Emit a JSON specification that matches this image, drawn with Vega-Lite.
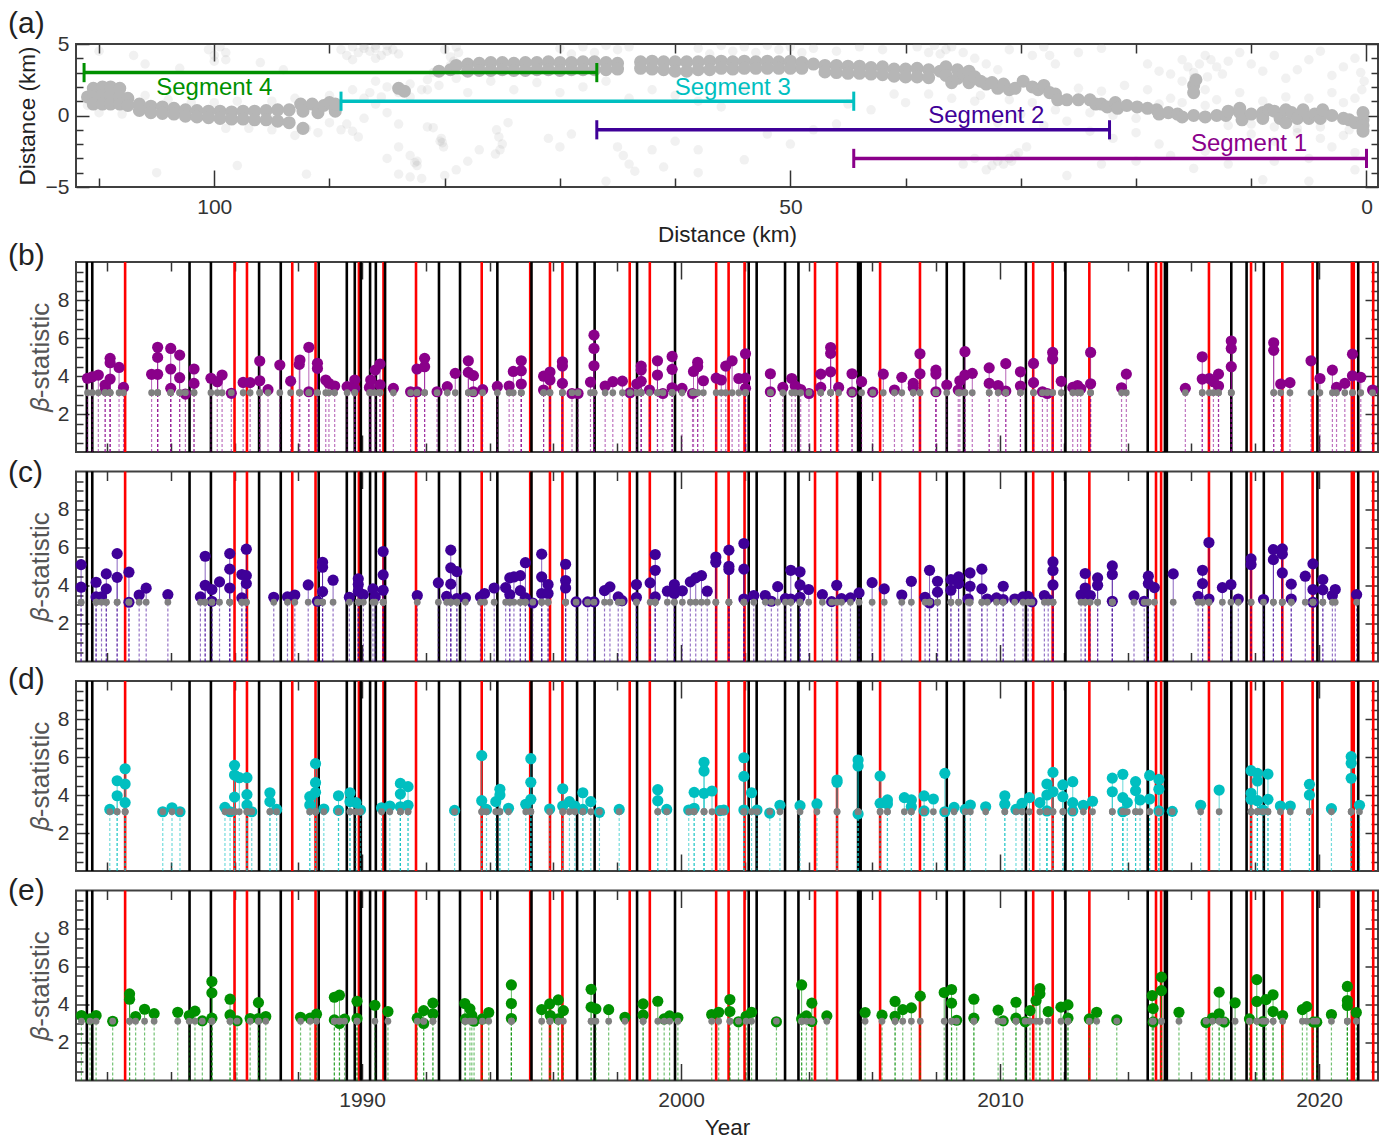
{"$schema":"https://vega.github.io/schema/vega-lite/v6.json","background":"white","padding":{"left":7,"top":8,"right":4,"bottom":4},"bounds":"flush","spacing":19.5,"resolve":{"scale":{"color":"independent"}},
"config":{"view":{"stroke":"#404040","strokeWidth":2},"axis":{"domain":false,"grid":false,"tickColor":"#333333","tickWidth":1.5,"labelFont":"Liberation Sans","labelFontSize":21,"labelColor":"#333333","titleFont":"Liberation Sans","titleFontSize":22.5,"titleFontWeight":"normal","titleColor":"#222222","labelPadding":20},"title":{"anchor":"start","frame":"group","dx":-68,"font":"Liberation Sans","fontSize":30,"fontWeight":"normal","color":"#222222","offset":0}},
"datasets":{
"ev":[{"t":1981.37,"k":"b"},{"t":1981.54,"k":"b"},{"t":1982.57,"k":"r"},{"t":1984.59,"k":"b"},{"t":1985.26,"k":"b"},{"t":1986.0,"k":"r"},{"t":1986.39,"k":"r"},{"t":1986.77,"k":"b"},{"t":1987.45,"k":"b"},{"t":1987.81,"k":"r"},{"t":1988.54,"k":"r"},{"t":1988.64,"k":"b"},{"t":1989.52,"k":"b"},{"t":1989.77,"k":"b"},{"t":1989.9,"k":"r"},{"t":1989.96,"k":"b"},{"t":1990.25,"k":"b"},{"t":1990.43,"k":"b"},{"t":1990.67,"k":"r"},{"t":1990.72,"k":"b"},{"t":1991.69,"k":"r"},{"t":1992.41,"k":"b"},{"t":1993.07,"k":"b"},{"t":1993.75,"k":"r"},{"t":1994.24,"k":"b"},{"t":1995.27,"k":"r"},{"t":1995.31,"k":"b"},{"t":1995.89,"k":"r"},{"t":1996.28,"k":"r"},{"t":1996.74,"k":"b"},{"t":1997.29,"k":"b"},{"t":1998.39,"k":"r"},{"t":1998.62,"k":"b"},{"t":1999.02,"k":"r"},{"t":1999.81,"k":"b"},{"t":2001.1,"k":"r"},{"t":2001.49,"k":"r"},{"t":2001.99,"k":"r"},{"t":2002.12,"k":"b"},{"t":2002.37,"k":"b"},{"t":2003.26,"k":"b"},{"t":2003.68,"k":"b"},{"t":2004.2,"k":"r"},{"t":2004.89,"k":"r"},{"t":2005.55,"k":"b"},{"t":2005.59,"k":"b"},{"t":2005.63,"k":"b"},{"t":2006.24,"k":"r"},{"t":2007.49,"k":"r"},{"t":2008.33,"k":"b"},{"t":2008.87,"k":"b"},{"t":2010.81,"k":"b"},{"t":2011.04,"k":"r"},{"t":2011.65,"k":"r"},{"t":2012.05,"k":"b"},{"t":2012.8,"k":"r"},{"t":2014.63,"k":"b"},{"t":2014.89,"k":"r"},{"t":2015.05,"k":"r"},{"t":2015.17,"k":"b"},{"t":2015.23,"k":"b"},{"t":2016.55,"k":"r"},{"t":2017.25,"k":"b"},{"t":2017.73,"k":"b"},{"t":2017.87,"k":"r"},{"t":2018.27,"k":"b"},{"t":2018.85,"k":"r"},{"t":2019.8,"k":"r"},{"t":2019.95,"k":"b"},{"t":2021.03,"k":"r"},{"t":2021.09,"k":"r"},{"t":2021.23,"k":"b"},{"t":2021.7,"k":"r"}],
"seg":[{"n":"Segment 4","a":111.3,"b":66.8,"y":3,"lo":2.33,"hi":3.67,"tx":100,"ty":1.9},{"n":"Segment 3","a":89,"b":44.5,"y":1,"lo":0.33,"hi":1.67,"tx":55,"ty":1.9},{"n":"Segment 2","a":66.8,"b":22.3,"y":-1,"lo":-1.67,"hi":-0.33,"tx":33,"ty":0},{"n":"Segment 1","a":44.5,"b":0,"y":-3,"lo":-3.67,"hi":-2.33,"tx":10.2,"ty":-2}],
"sp":[{"d":89,"v":4.6},{"d":88.5,"v":4.2},{"d":88,"v":4.8},{"d":87.5,"v":4.4},{"d":87,"v":4.9},{"d":86.5,"v":4.5},{"d":86,"v":4.7},{"d":85.5,"v":4.2},{"d":85,"v":4.9},{"d":84.5,"v":4.6},{"d":84,"v":4.3},{"d":88,"v":3.9},{"d":86,"v":4},{"d":87,"v":4.7},{"d":86,"v":4.9},{"d":85,"v":4.5},{"d":80,"v":4.6},{"d":79.5,"v":4.1},{"d":79,"v":4.8},{"d":79.2,"v":3.8},{"d":78.8,"v":4.4},{"d":79.5,"v":3.5},{"d":100.5,"v":4.6},{"d":100,"v":4.2},{"d":99.5,"v":4.8},{"d":99,"v":4.4},{"d":99,"v":3.9},{"d":100,"v":3.8},{"d":110,"v":4.5},{"d":107,"v":4.2},{"d":106,"v":3.6},{"d":103,"v":3.3},{"d":96,"v":3.7},{"d":94,"v":3.2},{"d":68,"v":4.8},{"d":67,"v":4.4},{"d":66,"v":4.9},{"d":65,"v":4.6},{"d":64,"v":4.8},{"d":69,"v":4.3},{"d":70,"v":4.7},{"d":58,"v":4.7},{"d":57,"v":4.3},{"d":56,"v":4.9},{"d":55,"v":4.5},{"d":54,"v":4.8},{"d":53,"v":4.4},{"d":52,"v":4.9},{"d":51,"v":4.6},{"d":50,"v":4.8},{"d":49,"v":4.4},{"d":48,"v":4.7},{"d":46,"v":4.5},{"d":44,"v":4.8},{"d":42,"v":4.6},{"d":39,"v":4.8},{"d":38,"v":4.4},{"d":37.5,"v":4.9},{"d":37,"v":4.3},{"d":36.5,"v":4.6},{"d":36,"v":4.8},{"d":35,"v":4.4},{"d":34,"v":4},{"d":33,"v":3.6},{"d":32,"v":3.2},{"d":31,"v":4.6},{"d":29,"v":4.2},{"d":28,"v":4.8},{"d":27.5,"v":4.2},{"d":27,"v":3.6},{"d":25,"v":4.4},{"d":23,"v":4.7},{"d":86,"v":2.4},{"d":85,"v":2},{"d":84,"v":1.6},{"d":83,"v":2.2},{"d":82,"v":1.8},{"d":81,"v":3},{"d":81.5,"v":2.5},{"d":80.5,"v":2.1},{"d":79,"v":2.6},{"d":78,"v":1.6},{"d":76,"v":2.4},{"d":74,"v":1.8},{"d":72,"v":2.3},{"d":70,"v":1.6},{"d":68,"v":2},{"d":66,"v":2.4},{"d":64,"v":1.2},{"d":62,"v":1.8},{"d":60,"v":1.4},{"d":58,"v":1},{"d":56,"v":0.6},{"d":54,"v":1.9},{"d":88.5,"v":-0.6},{"d":88,"v":-1.1},{"d":87.5,"v":-1.5},{"d":87,"v":-0.2},{"d":89,"v":-1},{"d":90,"v":-0.5},{"d":91,"v":-1.2},{"d":92,"v":-0.9},{"d":93,"v":-1.4},{"d":95,"v":-1},{"d":97,"v":-0.9},{"d":99,"v":-0.9},{"d":85,"v":0.2},{"d":84,"v":-0.6},{"d":86,"v":0.8},{"d":81.5,"v":-0.8},{"d":81,"v":-0.85},{"d":80.3,"v":-1.6},{"d":80.2,"v":-1.9},{"d":80.1,"v":-2.2},{"d":80.4,"v":-1.8},{"d":82.4,"v":-3.2},{"d":82.4,"v":-3.5},{"d":82.6,"v":-3.3},{"d":84,"v":-2.2},{"d":83,"v":-2.8},{"d":85,"v":-3},{"d":84,"v":-4.1},{"d":83,"v":-4.3},{"d":82,"v":-4.4},{"d":80,"v":-4.2},{"d":79,"v":-3.8},{"d":75.5,"v":-1},{"d":75.3,"v":-1.5},{"d":75,"v":-2},{"d":75.2,"v":-2.4},{"d":75.6,"v":-2.7},{"d":74.5,"v":-0.5},{"d":77,"v":-2.4},{"d":78,"v":-3.2},{"d":71,"v":-1.6},{"d":70,"v":-2.2},{"d":69,"v":-1.3},{"d":105,"v":-4},{"d":98,"v":-3.5},{"d":92,"v":-4.1},{"d":95,"v":-0.3},{"d":66,"v":-4.6},{"d":65,"v":-2.2},{"d":64.5,"v":-2.8},{"d":64,"v":-3.4},{"d":63.5,"v":-3.9},{"d":62,"v":-2.4},{"d":61,"v":-3.6},{"d":60,"v":-1.8},{"d":58,"v":-2.4},{"d":58,"v":-4},{"d":54,"v":-3.1},{"d":52,"v":-1.3},{"d":50,"v":-2},{"d":48,"v":-1},{"d":46,"v":-0.6},{"d":45,"v":0.8},{"d":43,"v":0.4},{"d":41,"v":1.5},{"d":40,"v":0.9},{"d":38,"v":1.5},{"d":36,"v":1.2},{"d":34,"v":1},{"d":32,"v":-0.5},{"d":30,"v":0.1},{"d":28,"v":-0.7},{"d":26,"v":-0.4},{"d":24,"v":-1.1},{"d":22,"v":-1.6},{"d":20,"v":-1.2},{"d":18,"v":-2},{"d":33,"v":-3.8},{"d":32.5,"v":-3.5},{"d":32,"v":-3.2},{"d":31.5,"v":-3.4},{"d":31,"v":-3},{"d":30.8,"v":-3.2},{"d":30.5,"v":-2.8},{"d":30.2,"v":-2.6},{"d":29.5,"v":-2.2},{"d":34,"v":-3},{"d":35,"v":-3.4},{"d":19,"v":3.6},{"d":18,"v":3.1},{"d":17,"v":2.9},{"d":16,"v":3.9},{"d":15.5,"v":3.4},{"d":15,"v":3},{"d":15,"v":2.6},{"d":14.5,"v":3.6},{"d":14,"v":4.2},{"d":13.5,"v":3.9},{"d":13,"v":3.4},{"d":12,"v":3.8},{"d":12.5,"v":2.9},{"d":11,"v":4.4},{"d":10,"v":3.6},{"d":9,"v":3.1},{"d":8,"v":4.2},{"d":7,"v":2.6},{"d":6,"v":3.2},{"d":5,"v":3.9},{"d":4,"v":4.5},{"d":3,"v":2.8},{"d":2,"v":3.4},{"d":1,"v":4},{"d":0.5,"v":3},{"d":0.2,"v":2.4},{"d":0.4,"v":1.8},{"d":1,"v":1.2},{"d":2,"v":0.9},{"d":3,"v":1.6},{"d":5,"v":1.2},{"d":7,"v":1.3},{"d":9,"v":1},{"d":11,"v":1.6},{"d":13,"v":1.1},{"d":17,"v":1.2},{"d":19,"v":1.8},{"d":21,"v":2.1},{"d":23,"v":1.7},{"d":25,"v":1.9},{"d":10,"v":-1.3},{"d":8,"v":-1.8},{"d":6,"v":-1.2},{"d":4,"v":-1.6},{"d":3,"v":-2.2},{"d":2,"v":-1.4},{"d":1,"v":-2.6},{"d":1,"v":-3.8},{"d":5,"v":-3},{"d":8,"v":-3.2},{"d":12,"v":-3.4},{"d":15,"v":-3.7},{"d":17,"v":-2.8},{"d":20,"v":-3.2},{"d":23,"v":-3.4},{"d":26,"v":-4.2},{"d":5,"v":-4.6},{"d":9,"v":-4.5},{"d":14,"v":-2.5},{"d":110,"v":0.2},{"d":111,"v":0.7},{"d":108,"v":0.1},{"d":106,"v":1.4},{"d":104,"v":1.1},{"d":102,"v":0.9},{"d":100,"v":0.9},{"d":98,"v":1},{"d":95,"v":1},{"d":93,"v":1.2},{"d":90,"v":1.4},{"d":88,"v":1.8},{"d":87,"v":1.2},{"d":86.5,"v":1.6},{"d":85.5,"v":1.3},{"d":83,"v":1.3},{"d":81.5,"v":1.8},{"d":33.5,"v":1.4},{"d":31,"v":1.1},{"d":29,"v":0.9},{"d":27,"v":0.4},{"d":24,"v":0.2},{"d":22,"v":0},{"d":20,"v":-0.2},{"d":18,"v":0.8},{"d":16,"v":0.9},{"d":14,"v":0.7},{"d":12,"v":-0.7},{"d":10,"v":-0.6},{"d":8,"v":-0.8},{"d":6,"v":-0.9},{"d":4,"v":-0.8},{"d":2,"v":-0.3},{"d":1.5,"v":-1},{"d":14,"v":1.8},{"d":16,"v":2.4},{"d":13.8,"v":2.7}],
"de":[{"d":111,"v":1.3},{"d":110.5,"v":1.9},{"d":110.5,"v":1.3},{"d":110.5,"v":0.8},{"d":109.7,"v":2},{"d":109.7,"v":1.4},{"d":109.7,"v":0.8},{"d":109,"v":2},{"d":109,"v":1.4},{"d":109,"v":0.8},{"d":108.2,"v":1.9},{"d":108.2,"v":1.3},{"d":108.2,"v":0.8},{"d":107.5,"v":1.2},{"d":107.5,"v":0.7},{"d":106.5,"v":0.8},{"d":106.5,"v":0.35},{"d":105.5,"v":0.65},{"d":105.5,"v":0.2},{"d":104.5,"v":0.6},{"d":104.5,"v":0.15},{"d":103.5,"v":0.5},{"d":103.5,"v":0.1},{"d":102.5,"v":0.4},{"d":102.5,"v":-0.05},{"d":101.5,"v":0.35},{"d":101.5,"v":-0.1},{"d":100.5,"v":0.3},{"d":100.5,"v":-0.15},{"d":99.5,"v":0.3},{"d":99.5,"v":-0.2},{"d":98.5,"v":0.25},{"d":98.5,"v":-0.25},{"d":97.5,"v":0.3},{"d":97.5,"v":-0.25},{"d":96.5,"v":0.3},{"d":96.5,"v":-0.3},{"d":95.5,"v":0.35},{"d":95.5,"v":-0.3},{"d":94.5,"v":0.4},{"d":94.5,"v":-0.4},{"d":93.5,"v":0.4},{"d":93.5,"v":-0.5},{"d":92.5,"v":0.8},{"d":92.3,"v":-0.9},{"d":92.3,"v":0.3},{"d":91.5,"v":0.8},{"d":91,"v":0.2},{"d":90.5,"v":0.7},{"d":90,"v":0.9},{"d":89.5,"v":0.3},{"d":89.5,"v":0.8},{"d":84,"v":1.9},{"d":83.5,"v":1.7},{"d":80.5,"v":3.1},{"d":79.5,"v":3.2},{"d":79,"v":3.5},{"d":78,"v":3.6},{"d":78,"v":3.1},{"d":77,"v":3.65},{"d":77,"v":3.15},{"d":76,"v":3.7},{"d":76,"v":3.15},{"d":75,"v":3.7},{"d":75,"v":3.2},{"d":74,"v":3.65},{"d":74,"v":3.15},{"d":73,"v":3.7},{"d":73,"v":3.15},{"d":72,"v":3.7},{"d":72,"v":3.2},{"d":71,"v":3.75},{"d":71,"v":3.2},{"d":70,"v":3.7},{"d":70,"v":3.15},{"d":69,"v":3.7},{"d":69,"v":3.2},{"d":68,"v":3.75},{"d":68,"v":3.2},{"d":67,"v":3.75},{"d":67,"v":3.2},{"d":66,"v":3.7},{"d":66,"v":3.2},{"d":65,"v":3.65},{"d":65,"v":3.25},{"d":63,"v":3.75},{"d":63,"v":3.3},{"d":62,"v":3.8},{"d":62,"v":3.25},{"d":61,"v":3.75},{"d":61,"v":3.2},{"d":60,"v":3.75},{"d":60,"v":3.1},{"d":59,"v":3.75},{"d":59,"v":3.1},{"d":58,"v":3.75},{"d":58,"v":3.2},{"d":57,"v":3.8},{"d":57,"v":3.2},{"d":56,"v":3.8},{"d":56,"v":3.3},{"d":55,"v":3.75},{"d":55,"v":3.25},{"d":54,"v":3.8},{"d":54,"v":3.3},{"d":53,"v":3.75},{"d":53,"v":3.3},{"d":52,"v":3.8},{"d":52,"v":3.3},{"d":51,"v":3.75},{"d":51,"v":3.3},{"d":50,"v":3.8},{"d":50,"v":3.3},{"d":49,"v":3.7},{"d":49,"v":3.3},{"d":48,"v":3.6},{"d":47,"v":3.5},{"d":47,"v":3.05},{"d":46,"v":3.5},{"d":46,"v":3},{"d":45,"v":3.45},{"d":45,"v":2.95},{"d":44,"v":3.45},{"d":44,"v":2.95},{"d":43,"v":3.35},{"d":43,"v":2.9},{"d":42,"v":3.4},{"d":42,"v":2.85},{"d":41,"v":3.25},{"d":41,"v":2.75},{"d":40,"v":3.25},{"d":40,"v":2.7},{"d":39,"v":3.3},{"d":39,"v":2.7},{"d":38,"v":3.2},{"d":38,"v":2.65},{"d":37,"v":3.1},{"d":36.5,"v":3.4},{"d":36.5,"v":2.8},{"d":36,"v":2.3},{"d":35.5,"v":3.2},{"d":35.5,"v":2.6},{"d":35,"v":2.9},{"d":34.5,"v":2.3},{"d":34.5,"v":3.1},{"d":34,"v":2.7},{"d":33.5,"v":2.4},{"d":33,"v":2.2},{"d":32.5,"v":2.3},{"d":32,"v":1.9},{"d":31.5,"v":2.2},{"d":31,"v":1.8},{"d":30.5,"v":1.9},{"d":29.8,"v":2.4},{"d":29,"v":2},{"d":28.5,"v":1.8},{"d":28,"v":2.1},{"d":27.5,"v":1.6},{"d":27,"v":1.5},{"d":26.8,"v":1.1},{"d":26,"v":1.1},{"d":25,"v":1.1},{"d":24,"v":1.1},{"d":23.5,"v":0.8},{"d":23,"v":0.8},{"d":22.5,"v":0.6},{"d":21.8,"v":0.9},{"d":21.6,"v":0.5},{"d":20.8,"v":0.7},{"d":19.9,"v":0.6},{"d":19,"v":0.5},{"d":18.2,"v":0.4},{"d":18,"v":0.1},{"d":17.2,"v":0.2},{"d":16.4,"v":0.1},{"d":16,"v":-0.1},{"d":15,"v":0},{"d":15,"v":2.1},{"d":15,"v":1.6},{"d":14.8,"v":2.5},{"d":14,"v":-0.1},{"d":13,"v":0},{"d":12.2,"v":0},{"d":12,"v":0.3},{"d":11,"v":0.2},{"d":10.8,"v":-0.3},{"d":11,"v":0.5},{"d":10,"v":0.1},{"d":9,"v":0.2},{"d":9,"v":-0.2},{"d":8.5,"v":0.4},{"d":8,"v":0.3},{"d":7.5,"v":-0.2},{"d":7,"v":0.4},{"d":7,"v":-0.5},{"d":6.5,"v":0.2},{"d":6,"v":-0.2},{"d":5.5,"v":0.4},{"d":5,"v":-0.2},{"d":4.5,"v":0.1},{"d":4,"v":-0.2},{"d":3.8,"v":0.4},{"d":3,"v":0},{"d":2,"v":-0.2},{"d":1.5,"v":-0.3},{"d":1,"v":-0.5},{"d":0.3,"v":-0.3},{"d":0.3,"v":-0.7},{"d":0.3,"v":-1.1},{"d":0.3,"v":0.2}],
"b":[{"t":1981.39,"b":3.88},{"t":1981.54,"b":3.96},{"t":1981.73,"b":4.05},{"t":1981.94,"b":3.52},{"t":1982.1,"b":3.84},{"t":1982.1,"b":4.93},{"t":1982.1,"b":4.7},{"t":1981.95,"b":3.26},{"t":1982.38,"b":4.45},{"t":1982.52,"b":3.4},{"t":1983.4,"b":4.09},{"t":1983.59,"b":4.09},{"t":1983.59,"b":4.98},{"t":1983.59,"b":5.51},{"t":1984,"b":5.45},{"t":1984,"b":4.37},{"t":1984,"b":3.35},{"t":1984.28,"b":5.1},{"t":1984.28,"b":3.91},{"t":1984.46,"b":3.05},{"t":1984.73,"b":4.37},{"t":1984.73,"b":3.61},{"t":1985.26,"b":3.88},{"t":1985.46,"b":3.7},{"t":1985.61,"b":4.05},{"t":1985.9,"b":3.09},{"t":1986.27,"b":3.66},{"t":1986.49,"b":3.65},{"t":1986.79,"b":4.79},{"t":1986.79,"b":3.75},{"t":1987.05,"b":3.28},{"t":1987.42,"b":4.58},{"t":1987.76,"b":3.73},{"t":1988.03,"b":4.61},{"t":1988.05,"b":4.84},{"t":1988.33,"b":5.51},{"t":1988.33,"b":3.17},{"t":1988.6,"b":4.67},{"t":1988.6,"b":4.4},{"t":1988.86,"b":3.79},{"t":1988.96,"b":3.61},{"t":1989.14,"b":3.47},{"t":1989.53,"b":3.44},{"t":1989.77,"b":3.79},{"t":1989.77,"b":3.35},{"t":1990.23,"b":3.4},{"t":1990.27,"b":3.79},{"t":1990.41,"b":4.31},{"t":1990.56,"b":4.63},{"t":1990.56,"b":3.54},{"t":1990.98,"b":3.35},{"t":1991.52,"b":3.17},{"t":1991.72,"b":3.17},{"t":1991.72,"b":4.37},{"t":1991.96,"b":4.49},{"t":1991.96,"b":4.93},{"t":1992.35,"b":3.17},{"t":1992.67,"b":3.44},{"t":1992.92,"b":4.14},{"t":1993.33,"b":4.8},{"t":1993.33,"b":4.19},{"t":1993.49,"b":4.02},{"t":1993.49,"b":3.17},{"t":1993.78,"b":3.28},{"t":1994.24,"b":3.45},{"t":1994.61,"b":3.47},{"t":1994.74,"b":4.24},{"t":1994.99,"b":4.8},{"t":1994.99,"b":4.28},{"t":1994.99,"b":3.58},{"t":1995.69,"b":3.99},{"t":1995.69,"b":3.26},{"t":1995.89,"b":4.21},{"t":1995.89,"b":3.79},{"t":1996.28,"b":4.75},{"t":1996.28,"b":4.52},{"t":1996.28,"b":3.61},{"t":1996.58,"b":3.08},{"t":1996.77,"b":3.08},{"t":1997.16,"b":3.68},{"t":1997.27,"b":6.15},{"t":1997.27,"b":5.45},{"t":1997.27,"b":4.54},{"t":1997.62,"b":3.47},{"t":1997.86,"b":3.7},{"t":1998.16,"b":3.73},{"t":1998.4,"b":3.12},{"t":1998.61,"b":3.58},{"t":1998.75,"b":4.52},{"t":1998.75,"b":4.31},{"t":1998.75,"b":3.72},{"t":1999.01,"b":3.26},{"t":1999.26,"b":4.8},{"t":1999.26,"b":4.05},{"t":1999.43,"b":3.08},{"t":1999.72,"b":5.03},{"t":1999.72,"b":4.35},{"t":1999.72,"b":3.38},{"t":2000.03,"b":3.35},{"t":2000.36,"b":3.08},{"t":2000.39,"b":4.24},{"t":2000.52,"b":4.72},{"t":2000.52,"b":4.49},{"t":2000.7,"b":3.75},{"t":2001.1,"b":3.89},{"t":2001.26,"b":3.79},{"t":2001.4,"b":4.52},{"t":2001.6,"b":4.8},{"t":2001.81,"b":3.87},{"t":2002.02,"b":5.17},{"t":2002.02,"b":3.89},{"t":2002.02,"b":3.35},{"t":2002.8,"b":4.12},{"t":2002.8,"b":3.17},{"t":2003.19,"b":3.4},{"t":2003.47,"b":3.87},{"t":2003.58,"b":3.47},{"t":2003.75,"b":3.29},{"t":2004.01,"b":3.08},{"t":2004.38,"b":4.1},{"t":2004.38,"b":3.4},{"t":2004.69,"b":5.5},{"t":2004.69,"b":5.19},{"t":2004.69,"b":4.22},{"t":2004.94,"b":3.4},{"t":2005.36,"b":4.12},{"t":2005.36,"b":3.15},{"t":2005.66,"b":3.7},{"t":2006.01,"b":3.15},{"t":2006.34,"b":4.1},{"t":2006.69,"b":3.26},{"t":2006.92,"b":3.93},{"t":2007.28,"b":3.61},{"t":2007.28,"b":3.4},{"t":2007.49,"b":5.17},{"t":2007.49,"b":4.12},{"t":2007.99,"b":4.31},{"t":2007.99,"b":4.1},{"t":2007.99,"b":3.17},{"t":2008.33,"b":3.52},{"t":2008.69,"b":3.26},{"t":2008.74,"b":3.75},{"t":2008.9,"b":5.28},{"t":2008.9,"b":4.05},{"t":2009.13,"b":4.14},{"t":2009.66,"b":4.43},{"t":2009.66,"b":3.61},{"t":2009.94,"b":3.5},{"t":2010.18,"b":4.65},{"t":2010.18,"b":3.21},{"t":2010.64,"b":4.22},{"t":2010.64,"b":3.47},{"t":2011.05,"b":4.66},{"t":2011.05,"b":3.65},{"t":2011.33,"b":3.17},{"t":2011.48,"b":3.08},{"t":2011.65,"b":5.24},{"t":2011.65,"b":4.89},{"t":2011.92,"b":3.72},{"t":2012.28,"b":3.4},{"t":2012.43,"b":3.5},{"t":2012.53,"b":3.33},{"t":2012.84,"b":5.24},{"t":2012.84,"b":3.59},{"t":2013.81,"b":3.38},{"t":2013.96,"b":4.1},{"t":2015.81,"b":3.35},{"t":2016.34,"b":5.01},{"t":2016.34,"b":3.84},{"t":2016.56,"b":3.87},{"t":2016.69,"b":3.7},{"t":2016.85,"b":4.1},{"t":2016.85,"b":3.47},{"t":2017.25,"b":5.84},{"t":2017.25,"b":5.45},{"t":2017.25,"b":4.49},{"t":2018.58,"b":5.75},{"t":2018.58,"b":5.35},{"t":2018.8,"b":3.58},{"t":2019.09,"b":3.65},{"t":2019.75,"b":4.8},{"t":2020.03,"b":3.87},{"t":2020.42,"b":4.31},{"t":2020.55,"b":3.4},{"t":2020.81,"b":3.61},{"t":2021.05,"b":5.15},{"t":2021.05,"b":4.01},{"t":2021.31,"b":3.93},{"t":2021.68,"b":3.26}],
"c":[{"t":1981.19,"b":5.1},{"t":1981.19,"b":3.91},{"t":1981.66,"b":4.17},{"t":1981.66,"b":3.4},{"t":1981.83,"b":3.4},{"t":1981.98,"b":4.61},{"t":1981.98,"b":3.82},{"t":1982.32,"b":5.68},{"t":1982.32,"b":4.43},{"t":1982.69,"b":4.7},{"t":1982.69,"b":3.12},{"t":1983.01,"b":3.5},{"t":1983.23,"b":3.86},{"t":1983.91,"b":3.52},{"t":1984.93,"b":3.4},{"t":1985.08,"b":5.54},{"t":1985.08,"b":4.01},{"t":1985.29,"b":3.79},{"t":1985.29,"b":3.17},{"t":1985.53,"b":4.19},{"t":1985.85,"b":5.68},{"t":1985.85,"b":4.86},{"t":1985.85,"b":3.87},{"t":1986.23,"b":4.58},{"t":1986.23,"b":3.35},{"t":1986.37,"b":5.91},{"t":1986.37,"b":4.52},{"t":1986.37,"b":4.1},{"t":1987.23,"b":3.38},{"t":1987.66,"b":3.4},{"t":1987.89,"b":3.5},{"t":1988.31,"b":4.03},{"t":1988.76,"b":5.22},{"t":1988.76,"b":4.96},{"t":1988.76,"b":3.68},{"t":1988.6,"b":3.17},{"t":1989.09,"b":4.28},{"t":1989.6,"b":3.38},{"t":1989.88,"b":4.35},{"t":1989.88,"b":4.05},{"t":1989.88,"b":3.7},{"t":1990.04,"b":3.52},{"t":1990.34,"b":3.82},{"t":1990.41,"b":3.4},{"t":1990.66,"b":5.79},{"t":1990.66,"b":4.56},{"t":1990.66,"b":3.75},{"t":1991.73,"b":3.47},{"t":1992.39,"b":4.14},{"t":1992.78,"b":5.86},{"t":1992.78,"b":4.93},{"t":1992.78,"b":4.07},{"t":1992.65,"b":3.43},{"t":1992.97,"b":4.73},{"t":1992.97,"b":3.31},{"t":1993.24,"b":3.35},{"t":1993.71,"b":3.4},{"t":1993.84,"b":3.58},{"t":1994.14,"b":3.87},{"t":1994.5,"b":3.89},{"t":1994.63,"b":4.4},{"t":1994.63,"b":3.52},{"t":1994.76,"b":4.45},{"t":1994.96,"b":4.52},{"t":1994.96,"b":3.73},{"t":1995.12,"b":5.2},{"t":1995.12,"b":3.35},{"t":1995.35,"b":3.08},{"t":1995.63,"b":5.65},{"t":1995.63,"b":4.45},{"t":1995.63,"b":3.58},{"t":1995.83,"b":4.05},{"t":1995.83,"b":3.58},{"t":1996.38,"b":5.12},{"t":1996.38,"b":4.26},{"t":1996.38,"b":3.87},{"t":1996.71,"b":3.14},{"t":1997.07,"b":3.14},{"t":1997.27,"b":3.14},{"t":1997.6,"b":3.73},{"t":1997.77,"b":3.93},{"t":1998.03,"b":3.4},{"t":1998.15,"b":3.2},{"t":1998.6,"b":4.05},{"t":1998.6,"b":3.37},{"t":1999.03,"b":4.14},{"t":1999.19,"b":5.63},{"t":1999.19,"b":4.8},{"t":1999.19,"b":3.4},{"t":1999.57,"b":3.7},{"t":1999.79,"b":4.05},{"t":1999.79,"b":3.58},{"t":2000.04,"b":3.72},{"t":2000.29,"b":4.19},{"t":2000.46,"b":4.4},{"t":2000.64,"b":4.52},{"t":2000.82,"b":3.7},{"t":2001.09,"b":5.5},{"t":2001.09,"b":5.22},{"t":2001.5,"b":5.86},{"t":2001.5,"b":5.01},{"t":2001.5,"b":4.84},{"t":2001.97,"b":6.21},{"t":2001.97,"b":4.86},{"t":2001.97,"b":3.29},{"t":2002.28,"b":3.47},{"t":2002.64,"b":3.47},{"t":2002.83,"b":3.17},{"t":2003.03,"b":3.94},{"t":2003.27,"b":3.31},{"t":2003.44,"b":4.8},{"t":2003.44,"b":3.29},{"t":2003.73,"b":4.72},{"t":2003.73,"b":4.03},{"t":2003.73,"b":3.38},{"t":2004,"b":3.79},{"t":2004.43,"b":3.52},{"t":2004.72,"b":3.15},{"t":2004.88,"b":4.01},{"t":2005.03,"b":3.31},{"t":2005.31,"b":3.35},{"t":2005.58,"b":3.61},{"t":2005.99,"b":4.15},{"t":2006.37,"b":3.82},{"t":2006.92,"b":3.5},{"t":2007.22,"b":4.22},{"t":2007.65,"b":3.38},{"t":2007.79,"b":4.8},{"t":2007.79,"b":3.08},{"t":2008.04,"b":4.22},{"t":2008.04,"b":3.65},{"t":2008.46,"b":4.31},{"t":2008.46,"b":3.75},{"t":2008.7,"b":4.45},{"t":2008.7,"b":4.1},{"t":2009,"b":3.29},{"t":2009.06,"b":4.66},{"t":2009.06,"b":3.96},{"t":2009.43,"b":4.86},{"t":2009.43,"b":3.82},{"t":2009.6,"b":3.29},{"t":2009.89,"b":3.35},{"t":2010.1,"b":3.96},{"t":2010.1,"b":3.26},{"t":2010.46,"b":3.29},{"t":2010.72,"b":3.4},{"t":2010.88,"b":3.43},{"t":2011,"b":3.14},{"t":2011.39,"b":3.47},{"t":2011.51,"b":3.26},{"t":2011.66,"b":5.24},{"t":2011.66,"b":4.79},{"t":2011.66,"b":4.03},{"t":2012.54,"b":3.5},{"t":2012.67,"b":4.63},{"t":2012.67,"b":3.87},{"t":2012.83,"b":3.47},{"t":2013.06,"b":4.4},{"t":2013.06,"b":4.01},{"t":2013.52,"b":5.03},{"t":2013.52,"b":4.58},{"t":2013.52,"b":3.17},{"t":2014.2,"b":3.45},{"t":2014.52,"b":3.17},{"t":2014.65,"b":4.49},{"t":2014.65,"b":4.1},{"t":2014.84,"b":3.89},{"t":2015.43,"b":4.61},{"t":2016.21,"b":3.43},{"t":2016.35,"b":4.8},{"t":2016.35,"b":4.1},{"t":2016.55,"b":6.26},{"t":2016.55,"b":3.29},{"t":2016.97,"b":3.89},{"t":2017.24,"b":4.05},{"t":2017.47,"b":3.29},{"t":2017.87,"b":5.4},{"t":2017.87,"b":5.1},{"t":2018.26,"b":3.26},{"t":2018.57,"b":5.89},{"t":2018.57,"b":5.36},{"t":2018.85,"b":5.93},{"t":2018.85,"b":5.65},{"t":2018.85,"b":4.66},{"t":2019.13,"b":4.07},{"t":2019.13,"b":3.29},{"t":2019.57,"b":4.49},{"t":2019.81,"b":5.14},{"t":2019.81,"b":3.79},{"t":2019.81,"b":3.12},{"t":2020.12,"b":4.31},{"t":2020.12,"b":3.77},{"t":2020.42,"b":3.47},{"t":2020.51,"b":3.79},{"t":2021.18,"b":3.52}],
"d":[{"t":1982.09,"b":3.24},{"t":1982.32,"b":4.75},{"t":1982.32,"b":3.96},{"t":1982.57,"b":5.38},{"t":1982.57,"b":4.58},{"t":1982.57,"b":3.6},{"t":1983.75,"b":3.12},{"t":1984.04,"b":3.33},{"t":1984.29,"b":3.12},{"t":1985.7,"b":3.35},{"t":1985.86,"b":3.12},{"t":1986,"b":5.56},{"t":1986,"b":5.05},{"t":1986,"b":3.89},{"t":1986.15,"b":4.91},{"t":1986.39,"b":4.91},{"t":1986.39,"b":4.02},{"t":1986.39,"b":3.47},{"t":1986.54,"b":3.12},{"t":1987.11,"b":4.12},{"t":1987.11,"b":3.65},{"t":1987.32,"b":3.24},{"t":1988.36,"b":3.91},{"t":1988.36,"b":3.47},{"t":1988.54,"b":5.65},{"t":1988.54,"b":4.65},{"t":1988.54,"b":4.14},{"t":1988.8,"b":3.26},{"t":1989.26,"b":3.96},{"t":1989.26,"b":3.19},{"t":1989.62,"b":4.12},{"t":1989.62,"b":3.65},{"t":1989.81,"b":3.6},{"t":1989.95,"b":3.21},{"t":1990.61,"b":3.33},{"t":1990.87,"b":3.42},{"t":1991.2,"b":4.61},{"t":1991.2,"b":4.05},{"t":1991.2,"b":3.38},{"t":1991.44,"b":4.44},{"t":1991.44,"b":3.46},{"t":1992.9,"b":3.19},{"t":1993.75,"b":6.07},{"t":1993.75,"b":3.7},{"t":1993.9,"b":3.24},{"t":1994.19,"b":3.65},{"t":1994.32,"b":4.3},{"t":1994.32,"b":4},{"t":1994.59,"b":3.3},{"t":1995.13,"b":3.51},{"t":1995.29,"b":5.91},{"t":1995.29,"b":4.67},{"t":1995.29,"b":3.77},{"t":1995.88,"b":3.26},{"t":1996.29,"b":4.33},{"t":1996.29,"b":3.42},{"t":1996.5,"b":3.65},{"t":1996.67,"b":3.42},{"t":1996.92,"b":4.12},{"t":1996.92,"b":3.24},{"t":1997.17,"b":3.65},{"t":1997.44,"b":3.09},{"t":1998.06,"b":3.24},{"t":1999.27,"b":4.28},{"t":1999.27,"b":3.7},{"t":1999.55,"b":3.24},{"t":2000.24,"b":3.21},{"t":2000.41,"b":4.14},{"t":2000.41,"b":3.3},{"t":2000.72,"b":5.72},{"t":2000.72,"b":5.26},{"t":2000.72,"b":4.09},{"t":2000.97,"b":4.21},{"t":2001.22,"b":3.18},{"t":2001.34,"b":3.21},{"t":2001.97,"b":5.96},{"t":2001.97,"b":4.98},{"t":2001.97,"b":3.21},{"t":2002.21,"b":4.12},{"t":2002.38,"b":3.21},{"t":2002.78,"b":3.05},{"t":2003.1,"b":3.46},{"t":2003.73,"b":3.44},{"t":2004.26,"b":3.53},{"t":2004.89,"b":4.79},{"t":2004.89,"b":4.67},{"t":2005.55,"b":5.84},{"t":2005.55,"b":5.53},{"t":2005.55,"b":3},{"t":2006.24,"b":5},{"t":2006.24,"b":3.56},{"t":2006.47,"b":3.74},{"t":2006.47,"b":3.53},{"t":2007,"b":3.86},{"t":2007.22,"b":3.74},{"t":2007.22,"b":3.38},{"t":2007.62,"b":3.95},{"t":2007.62,"b":3.16},{"t":2007.91,"b":3.79},{"t":2008.27,"b":5.14},{"t":2008.27,"b":3.12},{"t":2008.56,"b":3.35},{"t":2008.91,"b":3.24},{"t":2009.07,"b":3.47},{"t":2009.55,"b":3.38},{"t":2010.15,"b":3.96},{"t":2010.15,"b":3.51},{"t":2010.5,"b":3.24},{"t":2010.69,"b":3.56},{"t":2010.92,"b":3.86},{"t":2011.25,"b":3.6},{"t":2011.47,"b":4.58},{"t":2011.47,"b":4},{"t":2011.47,"b":3.16},{"t":2011.66,"b":5.19},{"t":2011.66,"b":4.17},{"t":2011.97,"b":4.53},{"t":2011.97,"b":3.91},{"t":2012.28,"b":4.7},{"t":2012.28,"b":3.6},{"t":2012.28,"b":3.16},{"t":2012.61,"b":3.46},{"t":2012.9,"b":3.67},{"t":2013.52,"b":4.89},{"t":2013.52,"b":4.17},{"t":2013.85,"b":5.09},{"t":2013.85,"b":3.86},{"t":2013.99,"b":3.6},{"t":2013.85,"b":3.12},{"t":2014.25,"b":4.7},{"t":2014.25,"b":4.23},{"t":2014.39,"b":3.74},{"t":2014.69,"b":5.03},{"t":2014.69,"b":3.79},{"t":2014.98,"b":4.82},{"t":2014.98,"b":4.3},{"t":2014.98,"b":3.16},{"t":2015.4,"b":3.14},{"t":2016.29,"b":3.46},{"t":2016.87,"b":4.26},{"t":2017.87,"b":5.28},{"t":2017.87,"b":4.09},{"t":2017.87,"b":3.77},{"t":2018.07,"b":5.14},{"t":2018.07,"b":4.74},{"t":2018.07,"b":3.7},{"t":2018.4,"b":5.1},{"t":2018.4,"b":3.77},{"t":2018.24,"b":3.21},{"t":2018.79,"b":3.42},{"t":2019.1,"b":3.42},{"t":2019.7,"b":4.56},{"t":2019.7,"b":4},{"t":2020.39,"b":3.28},{"t":2021.01,"b":6.02},{"t":2021.01,"b":5.67},{"t":2021.01,"b":4.88},{"t":2021.27,"b":3.46}],
"e":[{"t":1981.2,"b":3.42},{"t":1981.47,"b":3.24},{"t":1981.66,"b":3.42},{"t":1982.18,"b":3.12},{"t":1982.71,"b":4.56},{"t":1982.71,"b":4.28},{"t":1982.9,"b":3.37},{"t":1983.18,"b":3.75},{"t":1983.48,"b":3.52},{"t":1984.22,"b":3.59},{"t":1984.58,"b":3.42},{"t":1984.76,"b":3.65},{"t":1984.99,"b":3.14},{"t":1985.29,"b":5.21},{"t":1985.29,"b":4.61},{"t":1985.29,"b":3.28},{"t":1985.86,"b":4.28},{"t":1985.86,"b":3.45},{"t":1986.08,"b":3.14},{"t":1986.49,"b":3.26},{"t":1986.75,"b":4.1},{"t":1986.75,"b":3.26},{"t":1986.98,"b":3.37},{"t":1988.07,"b":3.33},{"t":1988.37,"b":3.28},{"t":1988.57,"b":3.49},{"t":1989.13,"b":4.38},{"t":1989.29,"b":4.49},{"t":1989.13,"b":3.19},{"t":1989.29,"b":3},{"t":1989.45,"b":3.23},{"t":1989.84,"b":4.17},{"t":1989.84,"b":3.26},{"t":1990.4,"b":3.96},{"t":1990.81,"b":3.63},{"t":1991.73,"b":3.28},{"t":1991.93,"b":3.68},{"t":1991.93,"b":3},{"t":1992.22,"b":4.07},{"t":1992.22,"b":3.51},{"t":1993.22,"b":4.05},{"t":1993.38,"b":3.77},{"t":1993.24,"b":3.24},{"t":1993.44,"b":3.42},{"t":1993.51,"b":3.12},{"t":1993.77,"b":3.24},{"t":1993.97,"b":3.58},{"t":1994.68,"b":5.03},{"t":1994.68,"b":4.05},{"t":1994.68,"b":3.26},{"t":1995.63,"b":3.73},{"t":1995.88,"b":4.03},{"t":1995.9,"b":3.42},{"t":1996.15,"b":4.24},{"t":1996.31,"b":3.68},{"t":1996.15,"b":3.24},{"t":1997.18,"b":4.8},{"t":1997.18,"b":3.86},{"t":1997.33,"b":3.77},{"t":1997.73,"b":3.73},{"t":1998.24,"b":3.33},{"t":1998.81,"b":4.03},{"t":1998.81,"b":3.45},{"t":1999.27,"b":4.17},{"t":1999.47,"b":3.24},{"t":1999.64,"b":3.4},{"t":1999.9,"b":3.3},{"t":2000.96,"b":3.47},{"t":2001.18,"b":3.59},{"t":2001.53,"b":4.26},{"t":2001.53,"b":3.63},{"t":2001.8,"b":3.09},{"t":2002.04,"b":3.38},{"t":2002.21,"b":3.59},{"t":2002.99,"b":3.09},{"t":2003.78,"b":5.03},{"t":2003.78,"b":3.24},{"t":2003.93,"b":3.4},{"t":2004.1,"b":4.07},{"t":2004.1,"b":3.1},{"t":2004.57,"b":3.4},{"t":2005.77,"b":3.58},{"t":2006.3,"b":3.44},{"t":2006.71,"b":4.16},{"t":2006.71,"b":3.38},{"t":2006.95,"b":3.73},{"t":2007.22,"b":3.82},{"t":2007.5,"b":4.44},{"t":2008.25,"b":4.63},{"t":2008.48,"b":4.79},{"t":2008.48,"b":4.07},{"t":2008.64,"b":3.17},{"t":2009.18,"b":4.28},{"t":2009.18,"b":3.28},{"t":2009.94,"b":3.7},{"t":2010.1,"b":3.14},{"t":2010.5,"b":4.12},{"t":2010.5,"b":3.28},{"t":2010.79,"b":3.09},{"t":2010.94,"b":3.68},{"t":2011.13,"b":4.21},{"t":2011.25,"b":4.84},{"t":2011.25,"b":4.56},{"t":2011.51,"b":3.63},{"t":2011.91,"b":3.86},{"t":2012.13,"b":3.98},{"t":2012.13,"b":3.28},{"t":2012.8,"b":3.24},{"t":2013.03,"b":3.59},{"t":2013.66,"b":3.19},{"t":2014.77,"b":4.47},{"t":2014.8,"b":3.79},{"t":2014.8,"b":3.07},{"t":2015.06,"b":5.44},{"t":2015.06,"b":4.73},{"t":2015.61,"b":3.59},{"t":2016.46,"b":3.05},{"t":2016.66,"b":3.28},{"t":2016.87,"b":4.65},{"t":2016.87,"b":3.51},{"t":2017.03,"b":3.07},{"t":2017.37,"b":4.09},{"t":2017.82,"b":3.24},{"t":2018.05,"b":5.31},{"t":2018.05,"b":4.16},{"t":2018.24,"b":3.1},{"t":2018.34,"b":4.26},{"t":2018.56,"b":4.51},{"t":2018.56,"b":3.63},{"t":2018.86,"b":3.42},{"t":2019.48,"b":3.73},{"t":2019.62,"b":3.89},{"t":2019.82,"b":3.07},{"t":2019.93,"b":3.07},{"t":2020.39,"b":3.47},{"t":2020.89,"b":4.95},{"t":2020.89,"b":4.21},{"t":2020.89,"b":3.95},{"t":2021.17,"b":3.58}]
},
"vconcat":[
{"width":1302,"height":143,"title":{"text":"(a)","dy":10},"resolve":{"axis":{"x":"independent","y":"independent"}},"layer":[
{"data":{"name":"sp"},"mark":{"type":"circle","size":90,"color":"#999999","opacity":0.14,"clip":true},"encoding":{"x":{"field":"d","type":"quantitative","scale":{"domain":[112,-1],"nice":false,"zero":false},"axis":{"orient":"bottom","values":[0,50,100],"format":"d","tickSize":-17,"labelPadding":26,"title":"Distance (km)","titlePadding":6}},"y":{"field":"v","type":"quantitative","scale":{"domain":[-5,5],"nice":false,"zero":false},"axis":{"orient":"left","values":[-5,0,5],"format":"d","tickSize":-13,"title":"Distance (km)","titlePadding":6}}}},
{"data":{"name":"de"},"mark":{"type":"circle","size":170,"color":"#b6b6b6","opacity":1,"clip":true},"encoding":{"x":{"field":"d","type":"quantitative","scale":{"domain":[112,-1],"nice":false,"zero":false},"axis":{"orient":"bottom","values":[10,20,30,40,60,70,80,90,110],"labels":false,"tickSize":-9,"title":null}},"y":{"field":"v","type":"quantitative","scale":{"domain":[-5,5],"nice":false,"zero":false},"axis":{"orient":"left","values":[-4,-3,-2,-1,1,2,3,4],"labels":false,"tickSize":-7,"title":null}}}},
{"data":{"name":"seg"},"mark":{"type":"rule","strokeWidth":3.5},"encoding":{"x":{"field":"a","type":"quantitative","scale":{"domain":[112,-1],"nice":false,"zero":false},"axis":{"orient":"top","values":[0,50,100],"labels":false,"tickSize":-17,"title":null}},"x2":{"field":"b"},"y":{"field":"y","type":"quantitative","scale":{"domain":[-5,5],"nice":false,"zero":false},"axis":{"orient":"right","values":[-5,0,5],"labels":false,"tickSize":-13,"title":null}},"color":{"field":"n","type":"nominal","scale":{"domain":["Segment 1","Segment 2","Segment 3","Segment 4"],"range":["#8a008a","#3f0098","#00bfc0","#009000"]},"legend":null}}},
{"data":{"name":"seg"},"mark":{"type":"rule","strokeWidth":3},"encoding":{"x":{"field":"a","type":"quantitative","scale":{"domain":[112,-1],"nice":false,"zero":false},"axis":null},"y":{"field":"lo","type":"quantitative","scale":{"domain":[-5,5],"nice":false,"zero":false},"axis":null},"y2":{"field":"hi"},"color":{"field":"n","type":"nominal","legend":null}}},
{"data":{"name":"seg"},"mark":{"type":"rule","strokeWidth":3},"encoding":{"x":{"field":"b","type":"quantitative","scale":{"domain":[112,-1],"nice":false,"zero":false},"axis":null},"y":{"field":"lo","type":"quantitative","scale":{"domain":[-5,5],"nice":false,"zero":false},"axis":null},"y2":{"field":"hi"},"color":{"field":"n","type":"nominal","legend":null}}},
{"data":{"name":"seg"},"mark":{"type":"text","font":"Liberation Sans","fontSize":24},"encoding":{"x":{"field":"tx","type":"quantitative","scale":{"domain":[112,-1],"nice":false,"zero":false},"axis":{"orient":"top","values":[10,20,30,40,60,70,80,90,110],"labels":false,"tickSize":-9,"title":null}},"y":{"field":"ty","type":"quantitative","scale":{"domain":[-5,5],"nice":false,"zero":false},"axis":{"orient":"right","values":[-4,-3,-2,-1,1,2,3,4],"labels":false,"tickSize":-7,"title":null}},"text":{"field":"n"},"color":{"field":"n","type":"nominal","legend":null}}}
]},
{"width":1302,"height":36,"view":{"stroke":null},"data":{"values":[]},"mark":"point"},
{"width":1302,"height":190,"title":{"text":"(b)","dy":14},"resolve":{"axis":{"x":"independent","y":"independent"}},"layer":[
{"data":{"name":"ev"},"mark":{"type":"rule","strokeWidth":2.6},"encoding":{"x":{"field":"t","type":"quantitative","scale":{"domain":[1981.03,2021.85],"nice":false,"zero":false},"axis":null},"color":{"field":"k","type":"nominal","scale":{"domain":["b","r"],"range":["#000000","#ff0000"]},"legend":null}}},
{"data":{"name":"b"},"mark":{"type":"rule","strokeWidth":1.2,"color":"#8a008a","opacity":0.55,"strokeDash":[3,2]},"encoding":{"x":{"field":"t","type":"quantitative","scale":{"domain":[1981.03,2021.85],"nice":false,"zero":false},"axis":{"orient":"bottom","values":[1990,2000,2010,2020],"labels":false,"tickSize":-17,"title":null}},"y":{"datum":0,"type":"quantitative","scale":{"domain":[0,10],"nice":false,"zero":false},"axis":{"orient":"left","values":[2,4,6,8],"format":"d","tickSize":-13,"title":"𝛽-statistic","titleFontSize":26,"titleColor":"#555555","titlePadding":4}},"y2":{"datum":3.12}}},
{"data":{"name":"b"},"mark":{"type":"rule","strokeWidth":1,"color":"#8a008a","opacity":0.6},"encoding":{"x":{"field":"t","type":"quantitative","scale":{"domain":[1981.03,2021.85],"nice":false,"zero":false},"axis":{"orient":"bottom","values":[1982,1984,1986,1988,1992,1994,1996,1998,2002,2004,2006,2008,2012,2014,2016,2018],"labels":false,"tickSize":-9,"title":null}},"y":{"field":"b","type":"quantitative","scale":{"domain":[0,10],"nice":false,"zero":false},"axis":{"orient":"left","values":[0.5,1,1.5,2.5,3,3.5,4.5,5,5.5,6.5,7,7.5,8.5,9,9.5],"labels":false,"tickSize":-7,"title":null}},"y2":{"datum":3.12}}},
{"data":{"name":"b"},"mark":{"type":"circle","size":125,"color":"#8a008a","opacity":1},"encoding":{"x":{"field":"t","type":"quantitative","scale":{"domain":[1981.03,2021.85],"nice":false,"zero":false},"axis":{"orient":"top","values":[1990,2000,2010,2020],"labels":false,"tickSize":-17,"title":null}},"y":{"field":"b","type":"quantitative","scale":{"domain":[0,10],"nice":false,"zero":false},"axis":{"orient":"right","values":[2,4,6,8],"labels":false,"tickSize":-13,"title":null}}}},
{"data":{"name":"b"},"mark":{"type":"circle","size":45,"color":"#808080","opacity":1},"encoding":{"x":{"field":"t","type":"quantitative","scale":{"domain":[1981.03,2021.85],"nice":false,"zero":false},"axis":{"orient":"top","values":[1982,1984,1986,1988,1992,1994,1996,1998,2002,2004,2006,2008,2012,2014,2016,2018],"labels":false,"tickSize":-9,"title":null}},"y":{"datum":3.12,"type":"quantitative","scale":{"domain":[0,10],"nice":false,"zero":false},"axis":{"orient":"right","values":[0.5,1,1.5,2.5,3,3.5,4.5,5,5.5,6.5,7,7.5,8.5,9,9.5],"labels":false,"tickSize":-7,"title":null}}}}
]},
{"width":1302,"height":190,"title":{"text":"(c)","dy":22},"resolve":{"axis":{"x":"independent","y":"independent"}},"layer":[
{"data":{"name":"ev"},"mark":{"type":"rule","strokeWidth":2.6},"encoding":{"x":{"field":"t","type":"quantitative","scale":{"domain":[1981.03,2021.85],"nice":false,"zero":false},"axis":null},"color":{"field":"k","type":"nominal","scale":{"domain":["b","r"],"range":["#000000","#ff0000"]},"legend":null}}},
{"data":{"name":"c"},"mark":{"type":"rule","strokeWidth":1.2,"color":"#3f0098","opacity":0.55,"strokeDash":[3,2]},"encoding":{"x":{"field":"t","type":"quantitative","scale":{"domain":[1981.03,2021.85],"nice":false,"zero":false},"axis":{"orient":"bottom","values":[1990,2000,2010,2020],"labels":false,"tickSize":-17,"title":null}},"y":{"datum":0,"type":"quantitative","scale":{"domain":[0,10],"nice":false,"zero":false},"axis":{"orient":"left","values":[2,4,6,8],"format":"d","tickSize":-13,"title":"𝛽-statistic","titleFontSize":26,"titleColor":"#555555","titlePadding":4}},"y2":{"datum":3.12}}},
{"data":{"name":"c"},"mark":{"type":"rule","strokeWidth":1,"color":"#3f0098","opacity":0.6},"encoding":{"x":{"field":"t","type":"quantitative","scale":{"domain":[1981.03,2021.85],"nice":false,"zero":false},"axis":{"orient":"bottom","values":[1982,1984,1986,1988,1992,1994,1996,1998,2002,2004,2006,2008,2012,2014,2016,2018],"labels":false,"tickSize":-9,"title":null}},"y":{"field":"b","type":"quantitative","scale":{"domain":[0,10],"nice":false,"zero":false},"axis":{"orient":"left","values":[0.5,1,1.5,2.5,3,3.5,4.5,5,5.5,6.5,7,7.5,8.5,9,9.5],"labels":false,"tickSize":-7,"title":null}},"y2":{"datum":3.12}}},
{"data":{"name":"c"},"mark":{"type":"circle","size":125,"color":"#3f0098","opacity":1},"encoding":{"x":{"field":"t","type":"quantitative","scale":{"domain":[1981.03,2021.85],"nice":false,"zero":false},"axis":{"orient":"top","values":[1990,2000,2010,2020],"labels":false,"tickSize":-17,"title":null}},"y":{"field":"b","type":"quantitative","scale":{"domain":[0,10],"nice":false,"zero":false},"axis":{"orient":"right","values":[2,4,6,8],"labels":false,"tickSize":-13,"title":null}}}},
{"data":{"name":"c"},"mark":{"type":"circle","size":45,"color":"#808080","opacity":1},"encoding":{"x":{"field":"t","type":"quantitative","scale":{"domain":[1981.03,2021.85],"nice":false,"zero":false},"axis":{"orient":"top","values":[1982,1984,1986,1988,1992,1994,1996,1998,2002,2004,2006,2008,2012,2014,2016,2018],"labels":false,"tickSize":-9,"title":null}},"y":{"datum":3.12,"type":"quantitative","scale":{"domain":[0,10],"nice":false,"zero":false},"axis":{"orient":"right","values":[0.5,1,1.5,2.5,3,3.5,4.5,5,5.5,6.5,7,7.5,8.5,9,9.5],"labels":false,"tickSize":-7,"title":null}}}}
]},
{"width":1302,"height":190,"title":{"text":"(d)","dy":19},"resolve":{"axis":{"x":"independent","y":"independent"}},"layer":[
{"data":{"name":"ev"},"mark":{"type":"rule","strokeWidth":2.6},"encoding":{"x":{"field":"t","type":"quantitative","scale":{"domain":[1981.03,2021.85],"nice":false,"zero":false},"axis":null},"color":{"field":"k","type":"nominal","scale":{"domain":["b","r"],"range":["#000000","#ff0000"]},"legend":null}}},
{"data":{"name":"d"},"mark":{"type":"rule","strokeWidth":1.2,"color":"#00bfc0","opacity":0.55,"strokeDash":[3,2]},"encoding":{"x":{"field":"t","type":"quantitative","scale":{"domain":[1981.03,2021.85],"nice":false,"zero":false},"axis":{"orient":"bottom","values":[1990,2000,2010,2020],"labels":false,"tickSize":-17,"title":null}},"y":{"datum":0,"type":"quantitative","scale":{"domain":[0,10],"nice":false,"zero":false},"axis":{"orient":"left","values":[2,4,6,8],"format":"d","tickSize":-13,"title":"𝛽-statistic","titleFontSize":26,"titleColor":"#555555","titlePadding":4}},"y2":{"datum":3.12}}},
{"data":{"name":"d"},"mark":{"type":"rule","strokeWidth":1,"color":"#00bfc0","opacity":0.6},"encoding":{"x":{"field":"t","type":"quantitative","scale":{"domain":[1981.03,2021.85],"nice":false,"zero":false},"axis":{"orient":"bottom","values":[1982,1984,1986,1988,1992,1994,1996,1998,2002,2004,2006,2008,2012,2014,2016,2018],"labels":false,"tickSize":-9,"title":null}},"y":{"field":"b","type":"quantitative","scale":{"domain":[0,10],"nice":false,"zero":false},"axis":{"orient":"left","values":[0.5,1,1.5,2.5,3,3.5,4.5,5,5.5,6.5,7,7.5,8.5,9,9.5],"labels":false,"tickSize":-7,"title":null}},"y2":{"datum":3.12}}},
{"data":{"name":"d"},"mark":{"type":"circle","size":125,"color":"#00bfc0","opacity":1},"encoding":{"x":{"field":"t","type":"quantitative","scale":{"domain":[1981.03,2021.85],"nice":false,"zero":false},"axis":{"orient":"top","values":[1990,2000,2010,2020],"labels":false,"tickSize":-17,"title":null}},"y":{"field":"b","type":"quantitative","scale":{"domain":[0,10],"nice":false,"zero":false},"axis":{"orient":"right","values":[2,4,6,8],"labels":false,"tickSize":-13,"title":null}}}},
{"data":{"name":"d"},"mark":{"type":"circle","size":45,"color":"#808080","opacity":1},"encoding":{"x":{"field":"t","type":"quantitative","scale":{"domain":[1981.03,2021.85],"nice":false,"zero":false},"axis":{"orient":"top","values":[1982,1984,1986,1988,1992,1994,1996,1998,2002,2004,2006,2008,2012,2014,2016,2018],"labels":false,"tickSize":-9,"title":null}},"y":{"datum":3.12,"type":"quantitative","scale":{"domain":[0,10],"nice":false,"zero":false},"axis":{"orient":"right","values":[0.5,1,1.5,2.5,3,3.5,4.5,5,5.5,6.5,7,7.5,8.5,9,9.5],"labels":false,"tickSize":-7,"title":null}}}}
]},
{"width":1302,"height":190,"title":{"text":"(e)","dy":21},"resolve":{"axis":{"x":"independent","y":"independent"}},"layer":[
{"data":{"name":"ev"},"mark":{"type":"rule","strokeWidth":2.6},"encoding":{"x":{"field":"t","type":"quantitative","scale":{"domain":[1981.03,2021.85],"nice":false,"zero":false},"axis":null},"color":{"field":"k","type":"nominal","scale":{"domain":["b","r"],"range":["#000000","#ff0000"]},"legend":null}}},
{"data":{"name":"e"},"mark":{"type":"rule","strokeWidth":1.2,"color":"#009000","opacity":0.55,"strokeDash":[3,2]},"encoding":{"x":{"field":"t","type":"quantitative","scale":{"domain":[1981.03,2021.85],"nice":false,"zero":false},"axis":{"orient":"bottom","values":[1990,2000,2010,2020],"format":"d","tickSize":-17,"labelPadding":26,"title":"Year","titlePadding":6}},"y":{"datum":0,"type":"quantitative","scale":{"domain":[0,10],"nice":false,"zero":false},"axis":{"orient":"left","values":[2,4,6,8],"format":"d","tickSize":-13,"title":"𝛽-statistic","titleFontSize":26,"titleColor":"#555555","titlePadding":4}},"y2":{"datum":3.12}}},
{"data":{"name":"e"},"mark":{"type":"rule","strokeWidth":1,"color":"#009000","opacity":0.6},"encoding":{"x":{"field":"t","type":"quantitative","scale":{"domain":[1981.03,2021.85],"nice":false,"zero":false},"axis":{"orient":"bottom","values":[1982,1984,1986,1988,1992,1994,1996,1998,2002,2004,2006,2008,2012,2014,2016,2018],"labels":false,"tickSize":-9,"title":null}},"y":{"field":"b","type":"quantitative","scale":{"domain":[0,10],"nice":false,"zero":false},"axis":{"orient":"left","values":[0.5,1,1.5,2.5,3,3.5,4.5,5,5.5,6.5,7,7.5,8.5,9,9.5],"labels":false,"tickSize":-7,"title":null}},"y2":{"datum":3.12}}},
{"data":{"name":"e"},"mark":{"type":"circle","size":125,"color":"#009000","opacity":1},"encoding":{"x":{"field":"t","type":"quantitative","scale":{"domain":[1981.03,2021.85],"nice":false,"zero":false},"axis":{"orient":"top","values":[1990,2000,2010,2020],"labels":false,"tickSize":-17,"title":null}},"y":{"field":"b","type":"quantitative","scale":{"domain":[0,10],"nice":false,"zero":false},"axis":{"orient":"right","values":[2,4,6,8],"labels":false,"tickSize":-13,"title":null}}}},
{"data":{"name":"e"},"mark":{"type":"circle","size":45,"color":"#808080","opacity":1},"encoding":{"x":{"field":"t","type":"quantitative","scale":{"domain":[1981.03,2021.85],"nice":false,"zero":false},"axis":{"orient":"top","values":[1982,1984,1986,1988,1992,1994,1996,1998,2002,2004,2006,2008,2012,2014,2016,2018],"labels":false,"tickSize":-9,"title":null}},"y":{"datum":3.12,"type":"quantitative","scale":{"domain":[0,10],"nice":false,"zero":false},"axis":{"orient":"right","values":[0.5,1,1.5,2.5,3,3.5,4.5,5,5.5,6.5,7,7.5,8.5,9,9.5],"labels":false,"tickSize":-7,"title":null}}}}
]}
]}
